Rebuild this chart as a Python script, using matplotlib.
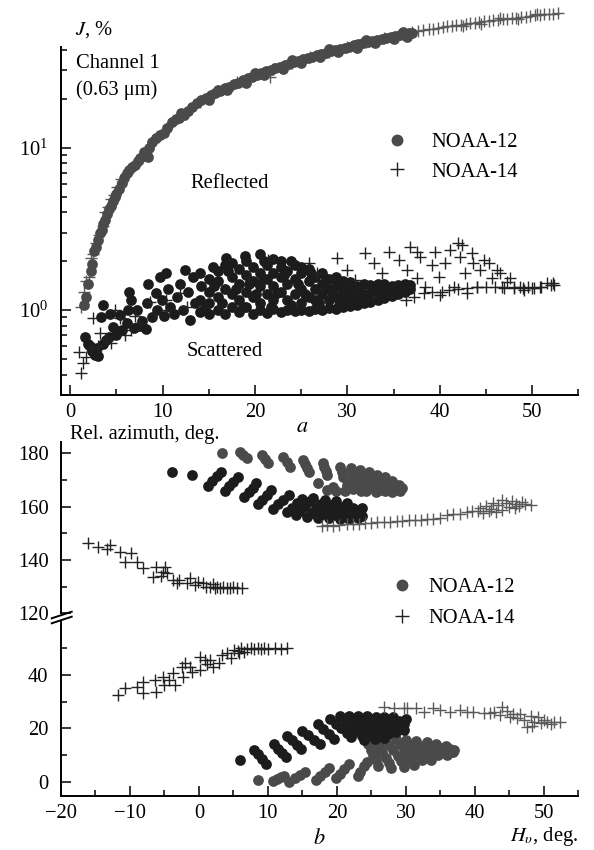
import matplotlib
matplotlib.use("Agg")
import matplotlib.pyplot as plt
from matplotlib.lines import Line2D
from matplotlib.ticker import FixedLocator, MultipleLocator, LogFormatterSciNotation, NullFormatter

plt.rcParams['font.family'] = ['Liberation Serif', 'DejaVu Serif']
plt.rcParams['mathtext.fontset'] = 'stix'
plt.rcParams['font.size'] = 14.8

# ---- panel a: J (%) vs solar elevation, channel 1 ----
refl12 = [(1.5,1.07),(1.7,1.2),(1.9,1.45),(2.2,1.75),(2.4,1.92),(2.6,2.3),(2.8,2.45),(3.0,2.7),
          (3.2,3.0),(3.4,3.1),(3.6,3.4),(3.8,3.6),(4.0,3.9),(4.2,4.2),(4.4,4.4),(4.6,4.7),(4.8,5.0),
          (5.0,5.2),(5.3,5.6),(5.6,6.1),(5.8,6.5),(6.1,7.0),(6.4,7.3),(6.7,7.6),(7.0,7.8),(7.3,8.3),
          (7.6,8.7),(8.0,9.4),(8.4,8.8),(8.5,10.0),(8.9,10.8),(9.3,11.4),(9.7,12.0),(10.1,12.4),
          (10.5,13.2),(11.0,14.4),(11.4,15.0),(11.8,15.3),(12.3,16.0),(12.7,16.8),(13.2,17.8),
          (13.7,18.8),(14.2,19.6),(14.7,20.2),(15.2,21.0),(15.7,21.6),(16.2,22.4),(16.7,23.2),
          (17.2,23.8),(17.7,24.6),(18.2,25.2),(18.7,26.0),(19.2,26.8),(19.7,27.4),(20.2,28.2),
          (20.7,28.9),(21.2,29.6),(21.7,30.2),(22.2,30.9),(22.7,31.6),(23.2,32.3),(23.7,33.0),
          (24.2,33.6),(24.7,34.4),(25.2,35.0),(25.7,35.7),(26.2,36.4),(26.7,37.1),(27.2,37.8),
          (27.7,38.5),(28.2,39.2),(28.7,39.9),(29.2,40.6),(29.7,41.3),(30.2,42.0),(30.7,42.8),
          (31.2,43.5),(31.7,44.2),(32.2,44.9),(32.7,45.6),(33.2,46.3),(33.7,47.0),(34.2,47.7),
          (34.7,48.3),(35.2,49.0),(35.7,49.6),(36.2,50.2),(36.7,50.8),(37.0,51.2),
          (15.0,19.8),(17.0,22.6),(19.0,25.2),(21.0,28.0),(23.0,30.6),(25.0,33.2),(27.0,36.0),
          (29.0,38.6),(31.0,41.4),(33.0,44.0),(35.0,46.8),(36.5,48.4),(12.0,16.4),(16.0,22.8),
          (20.0,29.0),(24.0,34.6),(28.0,40.4),(32.0,46.2),(36.0,51.4)]

refl14 = [(1.2,1.05),(1.5,1.3),(1.7,1.5),(2.0,1.6),(2.2,2.1),(2.5,2.2),(2.8,2.6),(3.1,2.9),
          (3.5,3.3),(3.8,4.0),(4.1,4.3),(4.4,4.8),(4.7,5.1),(5.1,5.7),(5.5,6.4),(6.0,6.8),(6.6,7.4),
          (7.2,8.1),(8.0,9.0),(9.0,10.9),(10.0,12.6),(11.0,14.2),(12.5,16.2),(14.0,19.2),(16.0,22.3),
          (18.0,25.4),(20.0,28.0),(21.6,27.2),(22.0,30.6),(24.0,33.2),(26.0,36.2),(28.0,39.0),
          (30.0,41.8),(32.0,44.8),(34.0,47.4),(36.0,50.0),(37.0,51.3),(37.6,52.3),(38.2,53.0),
          (38.8,53.6),(39.3,54.2),(39.8,54.8),(40.3,55.2),(40.8,55.8),(41.3,56.2),(41.8,56.9),
          (42.3,57.4),(42.8,57.9),(43.3,58.4),(43.8,58.9),(44.3,59.4),(44.8,59.9),(45.3,60.3),
          (45.8,60.9),(46.3,61.4),(46.8,61.9),(47.3,62.4),(47.8,62.9),(48.3,63.3),(48.8,63.8),
          (49.3,64.3),(49.8,64.8),(50.3,65.3),(50.8,65.7),(51.3,66.2),(51.8,66.6),(52.3,67.0),
          (52.8,67.3),(44.5,57.8),(46.5,63.0),(48.5,62.0),(50.5,66.5),(42.5,56.0)]

scat12 = [(1.6,0.68),(1.9,0.62),(2.1,0.6),(2.4,0.56),(2.7,0.53),(3.0,0.52),(2.9,0.58),(3.3,0.9),
          (3.6,1.07),(3.5,0.62),(3.9,0.65),(4.3,0.95),(4.2,0.68),(4.6,0.79),(4.9,0.7),(5.2,0.74),
          (5.6,0.75),(5.4,0.93),(6.1,0.83),(6.4,1.3),(6.6,1.15),(6.3,1.0),(6.9,0.78),(7.2,1.0),
          (7.5,0.8),(7.8,0.85),(8.2,0.76),(8.4,1.45),(8.3,1.1),(8.8,0.9),(9.3,1.27),(9.4,1.0),
          (9.7,1.6),(9.9,1.15),(10.2,0.92),(10.4,1.68),(10.8,1.05),(10.6,1.35),(11.2,0.95),
          (11.6,1.2),(11.9,1.45),(12.4,1.76),(12.2,1.0),(12.8,1.3),(13.0,0.87),(13.3,1.6),
          (13.5,1.1),(14.0,0.97),(14.0,1.15),(14.2,1.4),(14.0,1.7),
          (15.0,0.95),(15.0,1.1),(15.0,1.3),(15.0,1.55),(15.5,1.85),
          (16.0,1.0),(16.0,1.2),(16.0,1.5),(16.0,1.75),
          (16.8,0.95),(16.8,1.35),(16.8,1.9),(16.9,2.1),
          (17.5,1.05),(17.5,1.25),(17.5,1.6),(17.5,1.95),
          (18.3,0.97),(18.3,1.15),(18.3,1.45),(18.3,1.8),(18.9,2.15),
          (19.0,1.05),(19.0,1.3),(19.0,1.65),(19.0,2.0),
          (19.8,0.95),(19.8,1.2),(19.8,1.5),(19.8,1.85),(20.5,2.22),
          (20.5,1.0),(20.5,1.1),(20.5,1.4),(20.5,1.7),(21.0,2.0),
          (21.3,0.96),(21.3,1.25),(21.3,1.55),(21.3,1.9),(22.0,2.05),
          (22.0,1.02),(22.0,1.15),(22.0,1.4),(22.0,1.7),(22.8,2.0),
          (22.8,0.97),(22.8,1.3),(22.8,1.6),(22.8,1.85),
          (23.5,1.0),(23.5,1.15),(23.5,1.45),(23.5,1.75),(23.9,2.0),
          (24.3,0.98),(24.3,1.25),(24.3,1.55),(24.3,1.9),
          (25.0,1.0),(25.0,1.1),(25.0,1.35),(25.0,1.7),(25.0,1.85),
          (25.8,0.99),(25.8,1.2),(25.8,1.5),(25.8,1.8),
          (26.5,1.02),(26.5,1.15),(26.5,1.35),(26.5,1.6),
          (27.3,1.0),(27.3,1.25),(27.3,1.45),(27.3,1.7),
          (28.0,1.03),(28.0,1.15),(28.0,1.35),(28.0,1.55),
          (28.8,1.02),(28.8,1.2),(28.8,1.4),(28.8,1.6),
          (29.5,1.04),(29.5,1.15),(29.5,1.3),(29.5,1.5),
          (30.3,1.06),(30.3,1.2),(30.3,1.35),(30.3,1.48),
          (31.0,1.08),(31.0,1.22),(31.0,1.4),(31.8,1.1),(31.8,1.25),(31.8,1.45),
          (32.5,1.12),(32.5,1.28),(32.5,1.42),(33.3,1.15),(33.3,1.3),(33.3,1.45),
          (34.0,1.18),(34.0,1.35),(34.0,1.45),(34.8,1.22),(34.8,1.4),(35.5,1.25),(35.5,1.42),
          (36.2,1.3),(36.2,1.45),(36.8,1.35),(36.8,1.43),
          (14.6,1.05),(15.6,1.4),(16.4,1.1),(17.1,1.75),(17.9,1.35),(18.7,1.05),(19.4,1.45),
          (20.1,1.25),(20.9,1.55),(21.7,1.05),(22.4,1.28),(23.1,1.65),(23.9,1.07),(24.7,1.45),
          (25.4,1.25),(26.1,1.7),(26.9,1.1),(27.7,1.55),(28.4,1.25),(29.1,1.08),(29.9,1.4),
          (30.7,1.15),(31.4,1.3),(32.1,1.18),(32.9,1.35),(33.7,1.22),(34.4,1.3),(35.1,1.32)]

scat14 = [(1.2,0.41),(1.4,0.47),(0.9,0.55),(1.7,0.515),(2.5,0.89),(3.2,0.72),(3.9,0.65),
          (4.8,1.0),(5.4,0.89),(6.6,0.75),(7.5,0.83),(8.6,1.12),(10.4,1.15),(10.4,1.0),(11.9,1.27),
          (2.2,0.58),(3.0,0.6),(4.4,0.63),(5.9,0.7),(7.0,0.92),(9.2,0.95),(12.6,1.05),
          (19.3,1.6),(21.45,2.03),(25.8,1.94),(26.7,1.68),
          (28.86,2.08),(29.95,1.76),(30.85,1.53),(31.93,2.24),(32.83,1.94),(33.74,1.68),
          (34.46,2.29),(35.54,2.03),(36.5,1.76),(36.8,2.45),(37.5,2.29),(37.5,1.57),(37.9,2.13),
          (38.4,1.39),(39.15,1.89),(39.5,2.29),(39.87,1.6),(40.05,1.24),(40.6,1.94),(41.1,2.34),
          (41.5,1.39),(42.0,2.58),(42.2,2.13),(42.4,2.5),(42.76,1.68),(42.9,1.27),(43.5,2.24),
          (43.6,1.94),(44.0,1.39),(44.4,1.76),(44.75,2.03),(45.3,1.94),(45.65,1.57),(46.2,1.76),
          (46.5,1.68),(46.74,1.39),(47.3,1.49),(47.6,1.57),(48.0,1.39),(48.7,1.39),(49.1,1.33),
          (49.6,1.39),(50.2,1.36),(50.9,1.39),(51.6,1.46),(52.0,1.43),(52.3,1.46),
          (36.3,1.15),(37.2,1.2),(38.3,1.28),(39.2,1.3),(40.2,1.3),(41.0,1.33),(42.0,1.35),
          (43.0,1.36),(44.0,1.38),(45.0,1.38),(46.0,1.38),(47.0,1.37),(48.0,1.36),(49.0,1.36),
          (50.0,1.37),(51.0,1.39),(52.4,1.42)]

# ---- panel b: relative azimuth vs solar elevation ----
az12_gray = [(3.3,180.0),(6.0,180.6),(6.45,179.4),(6.9,178.1),(9.1,179.4),(9.55,177.8),(10.0,176.2),
             (12.2,178.7),(12.7,176.9),(13.2,175.0),(15.1,177.5),(15.4,176.0),(15.6,174.5),(15.9,173.1),
             (18.05,176.2),(18.2,174.8),(18.35,173.3),(18.5,171.9),(17.2,169.0),(18.5,166.2),
             (20.5,175.0),(20.7,173.0),(20.9,171.2),(19.5,167.5),(19.8,166.0),
             (22.0,174.5),(22.2,172.5),(22.4,170.5),(22.6,168.5),(22.3,166.5),
             (23.4,173.7),(23.6,171.6),(23.8,169.6),(23.9,167.5),(23.5,166.0),
             (24.6,173.0),(24.8,171.0),(25.0,169.0),(25.1,167.0),
             (25.8,172.0),(26.0,170.0),(26.2,168.2),(26.3,166.3),
             (27.0,171.0),(27.2,169.2),(27.4,167.4),(27.0,166.0),
             (28.0,169.5),(28.3,168.0),(28.6,166.5),(29.0,168.0),(29.4,167.0),(29.2,166.0),
             (21.2,166.0),(21.5,168.2),(24.2,165.7),(25.7,165.5),(28.0,165.6),
             # low branch
             (8.6,0.6),(10.7,0.3),(11.3,1.0),(11.9,1.7),(12.4,2.3),
             (13.1,0.0),(13.9,1.2),(14.7,2.4),(15.4,3.5),(17.0,0.8),(17.6,2.2),(18.3,3.6),(18.9,5.0),
             (19.9,1.3),(20.5,3.0),(21.1,4.8),(21.7,6.5),(23.0,2.0),(23.4,3.8),(23.9,5.7),(24.3,7.5),
             (24.5,14.0),(24.9,12.0),(25.3,10.0),(25.7,8.0),(26.0,6.0),
             (25.6,15.0),(26.1,13.0),(26.6,11.0),(27.1,9.0),(27.5,7.0),(27.9,5.2),
             (27.0,15.8),(27.6,13.8),(28.2,11.8),(28.8,9.8),(29.3,7.8),(29.7,5.6),
             (28.5,15.9),(29.1,14.0),(29.7,12.1),(30.3,10.2),(30.8,8.2),(31.2,6.2),
             (30.0,15.6),(30.6,13.8),(31.2,12.0),(31.8,10.1),(32.3,8.2),
             (31.5,15.2),(32.1,13.5),(32.7,11.8),(33.3,10.0),(33.7,8.3),
             (33.0,14.7),(33.6,13.1),(34.2,11.5),(34.7,9.9),
             (34.4,14.0),(35.0,12.6),(35.6,11.2),(36.0,10.0),
             (35.8,13.2),(36.4,12.2),(37.0,12.0),(36.8,11.0)]

az12_black = [(-3.97,173.1),(-1.06,171.9),
              (1.35,167.8),(1.95,169.6),(2.6,171.4),(3.2,173.0),
              (3.8,165.8),(4.4,167.6),(5.0,169.4),(5.6,171.0),
              (6.6,163.5),(7.2,165.3),(7.8,167.1),(8.3,168.7),
              (8.6,160.8),(9.2,162.6),(9.8,164.4),(10.4,166.1),
              (10.8,159.2),(11.5,160.9),(12.2,162.6),(13.1,164.3),
              (12.8,157.8),(13.5,159.5),(14.2,161.2),(14.9,163.0),
              (14.0,156.8),(14.7,158.5),(15.4,160.3),(16.1,162.0),(16.6,163.4),
              (15.6,156.0),(16.3,157.7),(17.0,159.4),(17.7,161.1),(18.3,162.6),
              (17.2,155.8),(17.9,157.3),(18.6,158.9),(19.3,160.5),(19.9,162.0),
              (18.8,155.6),(19.5,157.0),(20.2,158.5),(20.9,160.0),(21.4,161.4),
              (20.4,155.5),(21.1,156.9),(21.8,158.3),(22.4,159.6),
              (21.8,155.5),(22.5,156.8),(23.2,158.0),(23.6,159.4),(23.0,155.6),(23.6,156.6),
              # low branch
              (5.95,8.1),(8.0,12.0),(8.6,10.3),(9.2,8.5),(9.7,6.8),
              (10.9,14.0),(11.5,12.4),(12.1,10.8),(12.6,9.2),
              (12.8,17.0),(13.5,15.5),(14.2,13.9),(14.8,12.4),
              (15.0,19.0),(15.8,17.4),(16.7,15.8),(17.5,14.2),
              (17.2,21.5),(18.0,19.7),(18.8,17.9),(19.6,16.0),
              (19.0,23.5),(19.8,21.8),(20.6,20.0),(21.4,18.2),(22.0,16.6),
              (20.5,24.5),(21.3,22.7),(22.1,20.9),(22.9,19.1),(23.6,17.3),(24.0,15.5),
              (21.8,24.6),(22.6,22.9),(23.4,21.1),(24.2,19.4),(25.0,17.6),(25.5,16.0),
              (23.0,24.6),(23.8,22.9),(24.6,21.2),(25.4,19.5),(26.2,17.8),(26.8,16.3),
              (24.3,24.5),(25.1,22.9),(25.9,21.2),(26.7,19.6),(27.4,18.0),
              (25.6,24.4),(26.4,22.8),(27.2,21.2),(28.0,19.7),(28.6,18.6),
              (26.9,24.3),(27.7,22.8),(28.5,21.3),(29.3,20.0),(29.8,19.2),
              (28.2,24.2),(29.0,22.8),(29.7,21.5),(30.0,23.5)]

az14_dark = [(-16.1,146.3),(-14.6,145.0),(-13.4,144.0),(-12.9,145.6),(-11.5,143.1),(-9.8,142.5),
             (-10.7,139.4),(-9.05,139.4),(-8.1,136.9),(-6.65,133.7),(-6.2,137.5),(-5.2,135.6),
             (-4.6,135.0),(-4.9,137.2),(-3.7,132.5),(-2.9,132.5),(-1.8,131.3),(-1.3,133.1),
             (-0.6,130.6),(0.6,131.3),(1.0,129.7),(1.6,130.0),(2.1,131.0),(2.6,130.0),(3.0,129.5),
             (3.5,130.0),(4.0,129.5),(4.5,129.4),(5.0,129.7),(5.5,129.4),(6.2,129.4),(-5.5,133.8),
             (-3.2,131.5),(-0.2,131.8),(2.3,129.3),
             (-11.7,32.5),(-10.75,35.0),(-9.05,35.6),(-8.1,37.5),(-8.1,33.1),(-6.4,38.1),
             (-6.2,33.75),(-5.2,39.4),(-5.0,36.25),(-3.7,40.6),(-3.5,36.25),(-2.5,43.1),(-2.0,44.4),
             (-2.25,39.4),(-1.3,43.1),(0.15,46.9),(0.15,41.9),(0.9,45.6),(1.6,45.6),(2.1,43.1),
             (2.85,44.4),(3.3,47.5),(4.0,48.1),(4.6,46.25),(5.1,49.4),(5.6,49.0),(6.1,50.0),
             (7.0,49.6),(7.5,50.2),(8.0,49.8),(8.5,50.1),(9.0,49.7),(9.5,50.0),(10.0,49.9),
             (11.0,50.0),(11.9,49.8),(12.7,50.0),(-4.3,38.0),(-1.0,41.0),(1.2,44.0),(5.8,48.2),
             (6.6,48.8)]

az14_gray = [(17.8,152.8),(18.6,153.0),(19.4,152.9),(20.3,153.1),(21.4,153.4),(22.3,153.5),
             (23.2,153.6),(24.1,153.7),(25.0,153.9),(25.8,154.2),(26.8,154.3),(27.7,154.4),
             (28.7,154.5),(29.5,154.7),(30.4,154.8),(31.3,155.0),(32.2,155.1),(33.1,155.3),
             (34.0,155.4),(34.9,155.6),(35.9,156.8),(36.8,157.2),(37.8,157.4),(38.8,158.0),
             (39.6,158.3),(40.5,158.2),(40.8,159.5),(41.6,160.2),(42.3,159.0),(42.7,161.5),
             (43.4,160.5),(43.9,162.3),(44.5,161.3),(44.9,159.8),(45.4,162.0),(46.0,161.0),
             (46.4,160.2),(46.9,161.8),(47.3,160.8),(48.1,160.6),(42.0,158.5),(43.0,157.8),
             (44.0,158.6),(45.8,159.5),(41.2,157.7),
             (26.8,28.1),(28.3,27.8),(29.7,27.6),(30.2,27.5),(31.4,27.7),(32.6,26.3),(34.0,27.5),
             (35.0,26.8),(36.45,26.25),(37.9,26.9),(38.8,26.0),(39.8,26.25),(41.3,25.6),(42.2,25.6),
             (43.95,28.1),(43.7,25.0),(44.6,26.5),(45.1,24.4),(46.1,23.75),(46.6,25.2),(47.1,23.1),
             (47.6,20.6),(48.1,24.5),(48.6,22.5),(49.1,24.4),(49.6,21.9),(50.0,23.0),(50.5,22.5),
             (51.0,21.5),(51.45,22.5),(52.4,22.5),(48.3,21.0),(45.5,25.5),(42.8,26.3)]

GRAY = '#4a4a4a'
BLACK = '#1c1c1c'
CR_DARK = '#222222'
CR_GRAY = '#5a5a5a'
DOT_S = 60
CROSS_S = 70

W, H = 594, 850
fig = plt.figure(figsize=(W / 100, H / 100), dpi=100)


def rect(left, top, right, bottom):
    # pixel box -> figure fraction
    return [left / W, 1 - bottom / H, (right - left) / W, (bottom - top) / H]


def xs(pts):
    return [p[0] for p in pts]


def ys(pts):
    return [p[1] for p in pts]


def style(ax):
    ax.patch.set_visible(False)
    for s in ('top', 'right'):
        ax.spines[s].set_visible(False)
    for s in ('left', 'bottom'):
        ax.spines[s].set_linewidth(1.4)
    ax.tick_params(which='both', direction='in', width=1.1, labelsize=14.8)
    ax.tick_params(which='major', length=7)
    ax.tick_params(which='minor', length=4)
    ax.tick_params(axis='y', pad=9)
    ax.tick_params(axis='x', pad=6)


# panel a
ax = fig.add_axes(rect(61, 1.1, 578.3, 394.9))
style(ax)
ax.set_yscale('log')
ax.set_xlim(-1, 55)
ax.set_ylim(0.30, 80)
ax.spines['left'].set_bounds(0.30, 42)
ax.xaxis.set_minor_locator(MultipleLocator(5))
ax.set_xticks(range(0, 51, 10))
ax.yaxis.set_major_locator(FixedLocator([1, 10]))
ax.yaxis.set_major_formatter(LogFormatterSciNotation())
ax.yaxis.set_minor_locator(FixedLocator([0.3, 0.4, 0.5, 0.6, 0.7, 0.8, 0.9,
                                         2, 3, 4, 5, 6, 7, 8, 9, 20, 30, 40]))
ax.yaxis.set_minor_formatter(NullFormatter())

ax.scatter(xs(refl14), ys(refl14), marker='+', s=CROSS_S, c=CR_GRAY, linewidths=1.0, zorder=2)
ax.scatter(xs(refl12), ys(refl12), marker='o', s=DOT_S, c=GRAY, linewidths=0, zorder=3)
ax.scatter(xs(scat12), ys(scat12), marker='o', s=DOT_S, c=BLACK, linewidths=0, zorder=3)
ax.scatter(xs(scat14), ys(scat14), marker='+', s=CROSS_S, c=CR_DARK, linewidths=1.0, zorder=4)

h1 = Line2D([], [], ls='none', marker='o', ms=7.5, mfc=GRAY, mec=GRAY)
h2 = Line2D([], [], ls='none', marker='+', ms=9.5, mec=CR_DARK, mew=1.0)
ax.legend([h1, h2], ['NOAA-12', 'NOAA-14'], loc='upper left', frameon=False,
          bbox_to_anchor=(386.4 / W, 1 - 132.5 / H), bbox_transform=fig.transFigure,
          borderpad=0, borderaxespad=0, handlelength=1.0, handletextpad=1.2,
          labelspacing=0.5, fontsize=14.8)

fig.text(75 / W, 1 - 30 / H, '$J$, %', va='center', ha='left')
fig.text(76 / W, 1 - 63 / H, 'Channel 1', va='center', ha='left')
fig.text(76 / W, 1 - 90 / H, '(0.63 μm)', va='center', ha='left')
fig.text(190 / W, 1 - 183 / H, 'Reflected', va='center', ha='left')
fig.text(187 / W, 1 - 352 / H, 'Scattered', va='center', ha='left')
fig.text(70 / W, 1 - 435 / H, 'Rel. azimuth, deg.', va='center', ha='left')
fig.text(302.5 / W, 1 - 428 / H, '$a$', va='center', ha='center', fontsize=16)

# panel b (broken y axis)
ax_hi = fig.add_axes(rect(61, 441.8, 578.3, 613.3))
ax_lo = fig.add_axes(rect(61, 621.7, 578.3, 795.8), sharex=ax_hi)
for a in (ax_hi, ax_lo):
    style(a)
    a.scatter(xs(az12_gray), ys(az12_gray), marker='o', s=DOT_S, c=GRAY, linewidths=0, zorder=3)
    a.scatter(xs(az12_black), ys(az12_black), marker='o', s=DOT_S, c=BLACK, linewidths=0, zorder=3)
    a.scatter(xs(az14_dark), ys(az14_dark), marker='+', s=CROSS_S, c=CR_DARK, linewidths=1.0, zorder=4)
    a.scatter(xs(az14_gray), ys(az14_gray), marker='+', s=CROSS_S, c=CR_GRAY, linewidths=1.0, zorder=4)

ax_hi.set_ylim(120, 184.3)
ax_lo.set_ylim(-5.3, 60)
ax_lo.set_xlim(-20, 55)
ax_hi.spines['bottom'].set_visible(False)
ax_hi.tick_params(axis='x', which='both', bottom=False, labelbottom=False)
ax_hi.yaxis.set_major_locator(FixedLocator([120, 140, 160, 180]))
ax_hi.yaxis.set_minor_locator(FixedLocator([130, 150, 170]))
ax_lo.yaxis.set_major_locator(FixedLocator([0, 20, 40]))
ax_lo.yaxis.set_minor_locator(FixedLocator([10, 30, 50]))
ax_lo.xaxis.set_major_locator(MultipleLocator(10))
ax_lo.xaxis.set_minor_locator(MultipleLocator(5))

# break marks on the left spine
for y0, y1 in ((618.3, 611.7), (623.3, 616.7)):
    fig.add_artist(Line2D([51.7 / W, 71.7 / W], [1 - y0 / H, 1 - y1 / H],
                          transform=fig.transFigure, color='black', lw=1.4))

leg = ax_hi.legend([h1, h2], ['NOAA-12', 'NOAA-14'], loc='upper left', frameon=False,
                   bbox_to_anchor=(391.4 / W, 1 - 578 / H), bbox_transform=fig.transFigure,
                   borderpad=0, borderaxespad=0, handlelength=1.0, handletextpad=0.8,
                   labelspacing=0.55, fontsize=14.8)
leg.set_zorder(10)

fig.text(319 / W, 1 - 839 / H, '$b$', va='center', ha='center', fontsize=16)
fig.text(510 / W, 1 - 836 / H, r'$H_{\upsilon}$, deg.', va='center', ha='left')

fig.savefig('out.png', dpi=100)
